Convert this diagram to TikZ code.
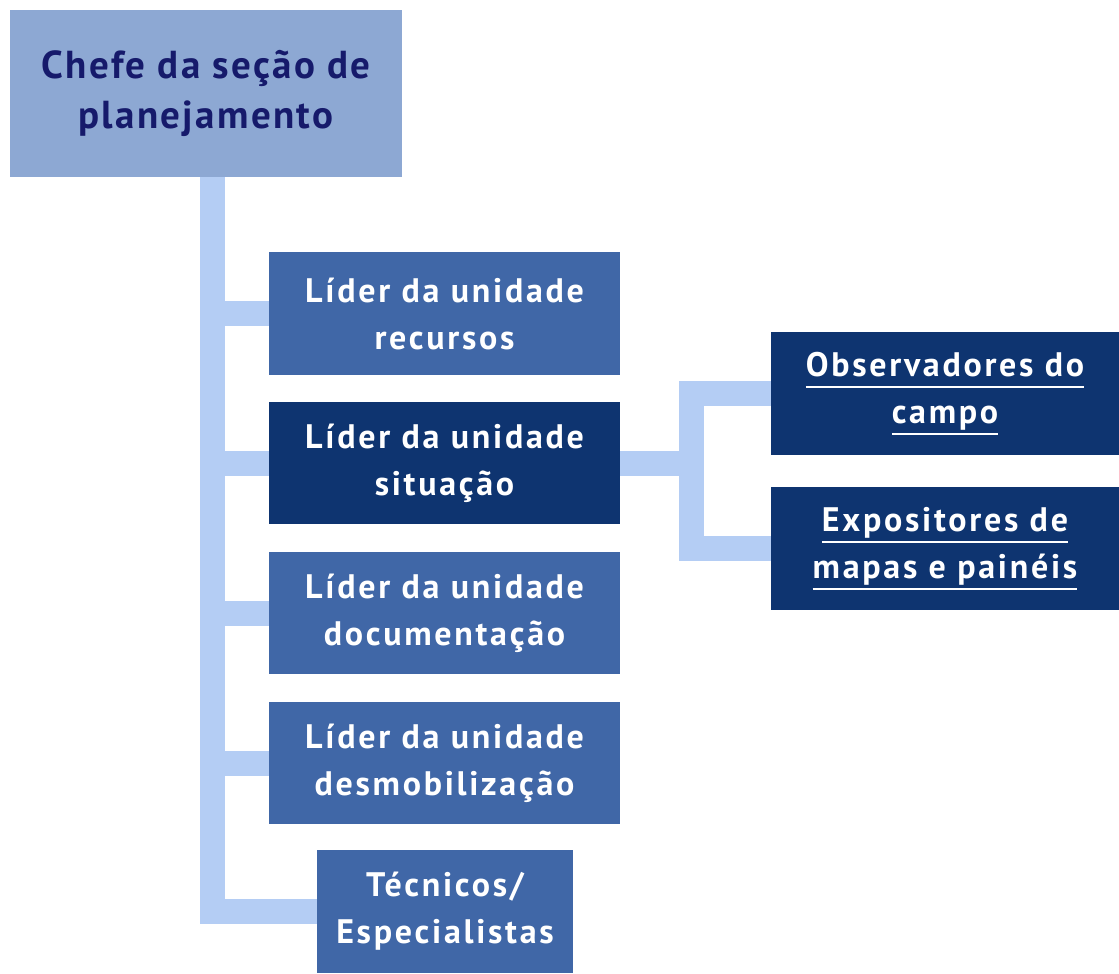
\documentclass[tikz,border=0pt]{standalone}
\usepackage{fontspec}
\setmainfont{PT Sans}
\newfontfamily\boxfont[LetterSpace=8]{PT Sans}
\newfontfamily\topfont[LetterSpace=6]{PT Sans}
\definecolor{topfill}{HTML}{8DA8D3}
\definecolor{toptext}{HTML}{161A6B}
\definecolor{connc}{HTML}{B4CDF4}
\definecolor{medfill}{HTML}{4067A7}
\definecolor{darkfill}{HTML}{0E3470}
\newcommand\wul[1]{\setbox0\hbox{#1}\rlap{\color{white}\rule[-11pt]{\wd0}{1.8pt}}\box0}
\begin{document}
\begin{tikzpicture}[x=1pt,y=-1pt,
  basebox/.style={rectangle,inner sep=0pt,align=center,text=white,
    font=\boxfont\bfseries\fontsize{34}{47}\selectfont},
  medbox/.style={basebox,fill=medfill},
  darkbox/.style={basebox,fill=darkfill},
  topbox/.style={rectangle,inner sep=0pt,align=center,fill=topfill,text=toptext,
    font=\topfont\bfseries\fontsize{39}{50}\selectfont},
  conn/.style={draw=connc,line width=25pt,line join=miter}]
\useasboundingbox (0,0) rectangle (1119,974);
\node[topbox,minimum width=392pt,minimum height=167pt] (chefe) at (206,93.5) {Chefe da seção de\\planejamento};
\node[medbox,minimum width=351pt,minimum height=123pt] (rec) at (444.5,313.5) {Líder da unidade\\recursos};
\node[darkbox,minimum width=351pt,minimum height=122pt] (sit) at (444.5,463) {Líder da unidade\\situação};
\node[medbox,minimum width=351pt,minimum height=122pt] (doc) at (444.5,613) {Líder da unidade\\documentação};
\node[medbox,minimum width=351pt,minimum height=122pt] (des) at (444.5,763) {Líder da unidade\\desmobilização};
\node[medbox,minimum width=256pt,minimum height=123pt] (tec) at (445,911.5) {Técnicos/\\Especialistas};
\node[darkbox,minimum width=348pt,minimum height=123pt] (obs) at (945,393.5) {\wul{Observadores do}\\\wul{campo}};
\node[darkbox,minimum width=348pt,minimum height=123pt] (exp) at (945,548.5) {\wul{Expositores de}\\\wul{mapas e painéis}};
\coordinate (tr) at (212.5,177);
\coordinate (vx) at (691,0);
\draw[conn] (chefe.south -| tr) -- (tec.west -| tr) -- (tec.west);
\foreach \b in {rec,sit,doc,des}{\draw[conn] (\b.west -| tr) -- (\b.west);}
\draw[conn] (sit.east) -- (sit.east -| vx);
\draw[conn] (obs.west) -- (obs.west -| vx) -- (exp.west -| vx) -- (exp.west);
\end{tikzpicture}
\end{document}
